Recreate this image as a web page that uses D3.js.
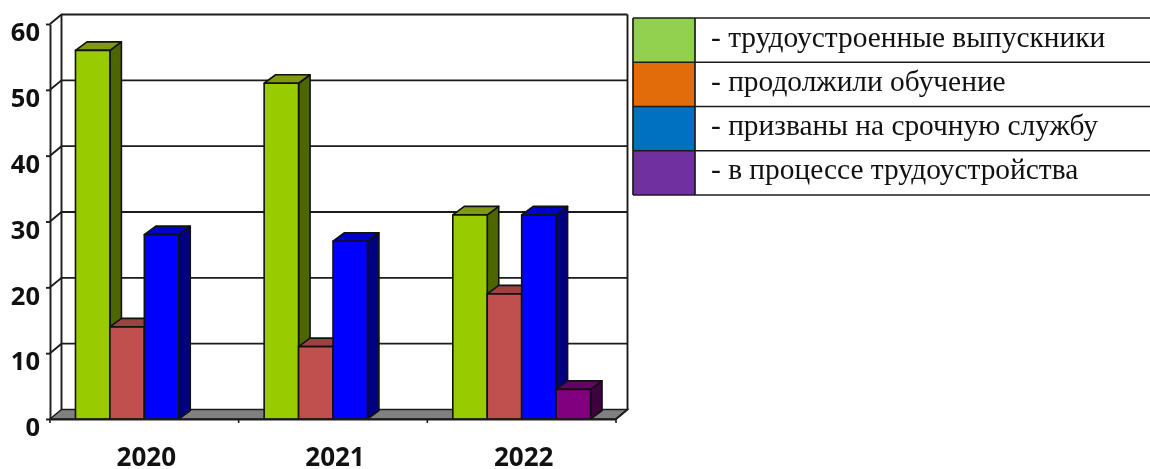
<!DOCTYPE html>
<html><head><meta charset="utf-8">
<script src="https://cdn.jsdelivr.net/npm/d3@7/dist/d3.min.js"></script>
<style>html,body{margin:0;background:#fff}svg{display:block;filter:blur(.45px)}</style>
</head><body><svg id="c" width="1150" height="469"></svg>
<script>
const categories = ["2020","2021","2022"];
const seriesNames = ["- трудоустроенные выпускники","- продолжили обучение","- призваны на срочную службу","- в процессе трудоустройства"];
const employed = [56,51,31];
const studying = [14,11,19];
const conscripted = [28,27,31];
const searching = [0,0,4.5];
const yTicks = [0,10,20,30,40,50,60];
const seriesValues = [employed,studying,conscripted,searching];
const faceColors = ["#99cc00","#c0504d","#0000ff","#800080"];
const topColors = ["#7f9a0c","#9c4240","#0000cc","#660066"];
const sideColors = ["#4d6600","#602826","#000080","#400040"];
const legendColors = ["#92d050","#e36c0a","#0070c0","#7030a0"];

const ink="#1c1c1c", dx=11.5, dy=-9.5, barDy=-8.5;
const svg=d3.select("#c");
const y=d3.scaleLinear().domain([0,60]).range([419,24]);
const x=d3.scaleBand().domain(categories).range([50,616]).paddingInner(.27).paddingOuter(.135);
const xs=d3.scaleBand().domain(d3.range(seriesNames.length)).range([0,x.bandwidth()]);
const poly=p=>p.map(d=>d.join(",")).join(" ");
const [L,R]=x.range();

// walls and floor
svg.append("polygon").attr("points",poly([[L,y(0)],[R,y(0)],[R+dx,y(0)+dy],[L+dx,y(0)+dy]]))
  .attr("fill","#808080").attr("stroke",ink).attr("stroke-width",1.5);
const grid=svg.append("g").attr("fill","none").attr("stroke",ink).attr("stroke-width",1.9);
grid.selectAll("polyline").data(yTicks.slice(1)).join("polyline")
  .attr("points",d=>poly([[L,y(d)],[L+dx,y(d)+dy],[R+dx,y(d)+dy]]));
grid.append("line").attr("x1",L+dx).attr("x2",L+dx).attr("y1",y(60)+dy).attr("y2",y(0)+dy);
grid.append("polyline").attr("points",poly([[R+dx,y(60)+dy],[R+dx,y(0)+dy],[R,y(0)]]));

// bars
const bars=[];
categories.forEach((c,i)=>seriesValues.forEach((vals,s)=>{ if(vals[i]>0) bars.push({c,s,v:vals[i]}); }));
const g=svg.append("g").attr("stroke","#111").attr("stroke-width",1.6).attr("stroke-linejoin","round");
bars.forEach(b=>{
  const x0=x(b.c)+xs(b.s), x1=x0+xs.bandwidth(), yt=y(b.v), yb=y(0);
  g.append("polygon").attr("fill",sideColors[b.s]).attr("points",poly([[x1,yt],[x1+dx,yt+barDy],[x1+dx,yb+barDy],[x1,yb]]));
  g.append("polygon").attr("fill",topColors[b.s]).attr("points",poly([[x0,yt],[x0+dx,yt+barDy],[x1+dx,yt+barDy],[x1,yt]]));
  g.append("rect").attr("fill",faceColors[b.s]).attr("x",x0).attr("y",yt).attr("width",x1-x0).attr("height",yb-yt);
});

// axes
const font="'Open Sans',sans-serif";
const ay=svg.append("g").attr("transform",`translate(${L},0)`)
  .call(d3.axisLeft(y).tickValues(yTicks).tickSize(4).tickPadding(6).tickSizeOuter(0));
ay.selectAll("path,line").attr("stroke",ink).attr("stroke-width",1.9);
ay.selectAll("text").attr("dy",".85em").attr("y",-5).attr("font-family",font).attr("font-weight",700).attr("font-size",25.5).attr("fill","#111");
const ax=svg.append("g").attr("transform",`translate(0,${y(0)})`)
  .call(d3.axisBottom(x).tickSize(0).tickSizeOuter(0));
ax.select("path").attr("stroke",ink).attr("stroke-width",1.9);
ax.selectAll("text").attr("x",2).attr("y",29).attr("font-family",font).attr("font-weight",700).attr("font-size",26).attr("fill","#111");
svg.append("g").selectAll("line").data(d3.range(categories.length+1)).join("line")
  .attr("x1",i=>L+i*(R-L)/categories.length).attr("x2",i=>L+i*(R-L)/categories.length)
  .attr("y1",y(0)).attr("y2",y(0)+4).attr("stroke",ink).attr("stroke-width",1.6);

// legend
const rowY=d3.scaleBand().domain(d3.range(seriesNames.length)).range([18,195]);
const lg=svg.append("g");
seriesNames.forEach((name,i)=>{
  const t=rowY(i), h=rowY.bandwidth();
  lg.append("rect").attr("x",633).attr("y",t).attr("width",62).attr("height",h).attr("fill",legendColors[i]);
  lg.append("line").attr("x1",633).attr("x2",1152).attr("y1",t).attr("y2",t).attr("stroke",ink).attr("stroke-width",1.7);
  lg.append("text").attr("x",711).attr("y",t+28.5).text(name)
    .attr("font-family","'Liberation Serif',serif").attr("font-size",29.4).attr("fill","#111");
});
lg.append("line").attr("x1",633).attr("x2",1152).attr("y1",195).attr("y2",195).attr("stroke",ink).attr("stroke-width",1.7);
[633,695].forEach(v=>lg.append("line").attr("x1",v).attr("x2",v).attr("y1",18).attr("y2",195).attr("stroke",ink).attr("stroke-width",1.7));
</script></body></html>
